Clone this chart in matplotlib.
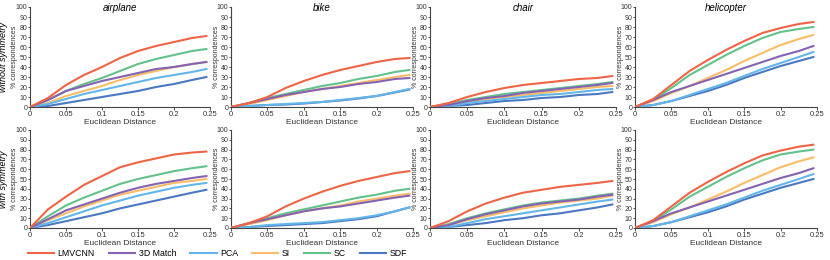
import numpy as np
from matplotlib import pyplot as plt

plt.rcParams['font.family'] = ['Liberation Sans Narrow', 'Liberation Sans', 'DejaVu Sans']

# Euclidean distance thresholds
x = [0, 0.025, 0.05, 0.075, 0.1, 0.125, 0.15, 0.175, 0.2, 0.225, 0.245]

methods = ['LMVCNN', '3D Match', 'PCA', 'SI', 'SC', 'SDF']
colors = ['#ef6445', '#8463b3', '#62b6e8', '#fbbc66', '#63c18c', '#4a78c2']
categories = ['airplane', 'bike', 'chair', 'helicopter']
rows = ['without symmetry', 'with symmetry']

# without symmetry, order: LMVCNN, 3D Match, PCA, SI, SC, SDF
airplane_wo = [[0, 9, 22, 32, 40, 49, 56, 61, 65, 69, 71],
               [0, 7, 16, 21, 26, 30, 34, 38, 40, 43, 45],
               [0, 3, 8, 13, 17, 21, 25, 29, 32, 35, 38],
               [0, 4, 11, 16, 21, 27, 32, 36, 40, 43, 45],
               [0, 7, 16, 23, 29, 36, 43, 48, 52, 56, 58],
               [0, 1, 4, 7, 10, 13, 16, 20, 23, 27, 30]]
bike_wo = [[0, 4, 10, 19, 26, 32, 37, 41, 45, 48, 49],
           [0, 4, 8, 12, 15, 18, 20, 23, 25, 28, 29],
           [0, 1, 2, 3, 4, 5, 7, 9, 11, 15, 18],
           [0, 3, 7, 11, 15, 18, 21, 24, 27, 30, 32],
           [0, 4, 9, 13, 17, 21, 24, 28, 31, 35, 37],
           [0, 1, 2, 2.5, 3.5, 5, 6.5, 8.5, 11, 14.5, 17.5]]
chair_wo = [[0, 4, 10, 15, 19, 22, 24, 26, 28, 29, 31],
            [0, 2, 6, 9, 11, 14, 16, 18, 20, 22, 24],
            [0, 1, 4, 6, 8, 10, 12, 13, 15, 17, 18],
            [0, 2, 5, 8, 10, 12, 14, 16, 18, 20, 21],
            [0, 3, 7, 10, 13, 15, 17, 19, 21, 23, 25],
            [0, 1, 2, 4, 6, 7, 9, 10, 12, 13, 15]]
helicopter_wo = [[0, 8, 22, 36, 47, 57, 66, 74, 79, 83, 85],
                 [0, 7, 15, 21, 27, 33, 39, 45, 51, 56, 61],
                 [0, 2, 6, 12, 18, 24, 31, 38, 44, 50, 55],
                 [0, 6, 14, 21, 29, 37, 46, 54, 62, 68, 72],
                 [0, 7, 19, 32, 42, 52, 61, 69, 75, 78, 80],
                 [0, 2, 6, 11, 16, 22, 29, 35, 41, 46, 50]]

# with symmetry
airplane_w = [[0, 19, 32, 44, 53, 62, 67, 71, 75, 77, 78],
              [0, 9, 18, 24, 30, 36, 41, 45, 48, 51, 53],
              [0, 5, 11, 17, 23, 28, 33, 37, 41, 44, 46],
              [0, 8, 15, 22, 28, 34, 38, 42, 46, 48, 50],
              [0, 12, 23, 31, 38, 45, 50, 54, 58, 61, 63],
              [0, 3, 7, 11, 15, 20, 24, 28, 32, 36, 39]]
bike_w = [[0, 5, 12, 22, 30, 37, 43, 48, 52, 56, 58],
          [0, 5, 9, 13, 17, 20, 22, 25, 28, 31, 33],
          [0, 1, 3, 4, 5, 6, 8, 10, 13, 17, 21],
          [0, 4, 8, 13, 17, 20, 23, 27, 30, 33, 35],
          [0, 5, 10, 15, 19, 23, 27, 31, 34, 38, 40],
          [0, 1, 2, 3, 4, 5, 7, 9, 12, 17, 21]]
chair_w = [[0, 7, 17, 25, 31, 36, 39, 42, 44, 46, 48],
           [0, 3, 9, 14, 18, 22, 25, 27, 29, 32, 34],
           [0, 1, 5, 9, 12, 15, 18, 21, 24, 27, 29],
           [0, 3, 8, 12, 16, 20, 23, 26, 28, 30, 33],
           [0, 4, 10, 15, 19, 23, 26, 28, 30, 33, 35],
           [0, 1, 3, 5, 8, 10, 13, 15, 18, 21, 24]]
helicopter_w = helicopter_wo

data = [[airplane_wo, bike_wo, chair_wo, helicopter_wo],
        [airplane_w, bike_w, chair_w, helicopter_w]]

fig = plt.figure(figsize=(8.3, 2.6), dpi=100)

lefts = [30, 231, 430, 635]
widths = [180, 182, 186, 182]
tops = [7, 130]
heights = [100, 98]
W, H = 830.0, 260.0
lines = []

for r in range(2):
    for c in range(4):
        ax = fig.add_axes([lefts[c] / W, 1 - (tops[r] + heights[r]) / H,
                           widths[c] / W, heights[r] / H])
        for k in range(6):
            ln, = ax.plot(x, data[r][c][k], color=colors[k], lw=1.5,
                          label=methods[k], zorder=10 - k if k else 10)
            if r == 0 and c == 0:
                lines.append(ln)
        ax.set_xlim(0, 0.25)
        ax.set_ylim(0, 100)
        ax.set_xticks([0, 0.05, 0.1, 0.15, 0.2, 0.25])
        ax.set_xticklabels(['0', '0.05', '0.1', '0.15', '0.2', '0.25'])
        ax.set_yticks(range(0, 101, 10))
        ax.tick_params(labelsize=5.5, length=2, width=0.6, pad=1, colors='#333333')
        ax.tick_params(axis='y', labelsize=5, length=1.5, pad=0.5)
        ax.spines['top'].set_visible(False)
        ax.spines['right'].set_visible(False)
        for s in ['left', 'bottom']:
            ax.spines[s].set_linewidth(0.8)
            ax.spines[s].set_color('#444444')
        ax.set_xlabel('Euclidean Distance', fontsize=6, color='#333333')
        ax.xaxis.set_label_coords(0.5, -0.125)
        ax.set_ylabel('% correspondences', fontsize=5, color='#333333')
        ax.yaxis.set_label_coords(-11.5 / widths[c], 0.5)
        if r == 0:
            ax.text(0.5, 0.99, categories[c], transform=ax.transAxes,
                    ha='center', va='center', fontsize=7, style='italic')
        if c == 0:
            fig.text(4 / W, 1 - (tops[r] + heights[r] / 2) / H, rows[r],
                     rotation=90, ha='center', va='center', fontsize=6.5,
                     style='italic')

fig.legend(lines, methods, loc='center left', bbox_to_anchor=(28 / W, 1 - 254 / H),
           ncol=6, frameon=False, fontsize=6.3, handlelength=3.0,
           columnspacing=1.6, handletextpad=0.4, borderaxespad=0, borderpad=0)

fig.savefig('out.png', dpi=100)
